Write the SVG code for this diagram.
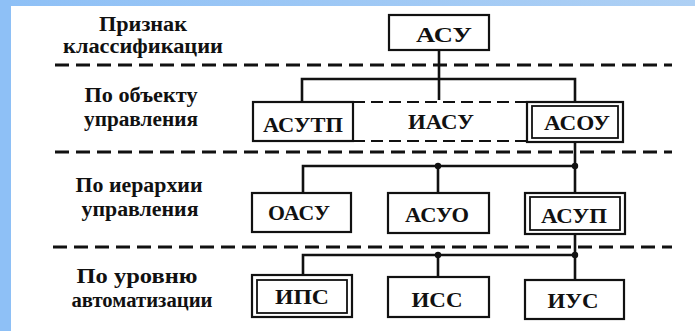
<svg xmlns="http://www.w3.org/2000/svg" width="695" height="331" viewBox="0 0 695 331">
<defs>
<linearGradient id="bg" x1="0" y1="0" x2="1" y2="0">
<stop offset="0" stop-color="#8ec0f6"/>
<stop offset="1" stop-color="#aed0f4"/>
</linearGradient>
</defs>
<style>
.lbl{font-family:"Liberation Serif","Times New Roman",serif;font-size:20px;font-weight:bold;fill:#111;text-anchor:middle}
.bt{font-family:"Liberation Serif","Times New Roman",serif;font-size:21px;font-weight:bold;fill:#111;text-anchor:middle}
.box{fill:#fff;stroke:#111;stroke-width:2.2}
.in{fill:none;stroke:#111;stroke-width:1.8}
.sep{stroke:#111;stroke-width:3;stroke-dasharray:14 7;fill:none}
.dsh{stroke:#111;stroke-width:2.2;stroke-dasharray:12 6;fill:none}
.ln{stroke:#111;stroke-width:2.6;fill:none}
.dot{fill:#111}
</style>
<rect x="0" y="0" width="695" height="331" fill="#fff"/>
<rect x="0" y="0" width="695" height="6" fill="url(#bg)"/>
<rect x="0" y="0" width="11" height="331" fill="#8ec0f6"/>

<g id="labels">
<text class="lbl" x="143" y="31" textLength="88" lengthAdjust="spacingAndGlyphs">Признак</text>
<text class="lbl" x="143" y="53" textLength="160" lengthAdjust="spacingAndGlyphs">классификации</text>
<text class="lbl" x="141" y="102" textLength="113" lengthAdjust="spacingAndGlyphs">По объекту</text>
<text class="lbl" x="141" y="126" textLength="114" lengthAdjust="spacingAndGlyphs">управления</text>
<text class="lbl" x="139" y="192" textLength="127" lengthAdjust="spacingAndGlyphs">По иерархии</text>
<text class="lbl" x="140" y="216" textLength="117" lengthAdjust="spacingAndGlyphs">управления</text>
<text class="lbl" x="137" y="283" textLength="121" lengthAdjust="spacingAndGlyphs">По уровню</text>
<text class="lbl" x="142" y="307" textLength="141" lengthAdjust="spacingAndGlyphs">автоматизации</text>
</g>

<g id="separators">
<line class="sep" x1="55" y1="65" x2="672" y2="65"/>
<line class="sep" x1="55" y1="152" x2="672" y2="152"/>
<line class="sep" x1="53" y1="247" x2="672" y2="247"/>
</g>

<g id="connectors">
<polyline class="ln" points="439,50 439,100"/>
<polyline class="ln" points="302,102 302,79 575,79 575,102"/>
<polyline class="ln" points="575,142 575,193"/>
<polyline class="ln" points="303,193 303,166 575,166"/>
<line class="ln" x1="438" y1="166" x2="438" y2="193"/>
<circle class="dot" cx="438" cy="166" r="3.2"/>
<circle class="dot" cx="575" cy="166" r="3.2"/>
<polyline class="ln" points="575,234 575,280"/>
<polyline class="ln" points="303,275 303,255 575,255"/>
<line class="ln" x1="438" y1="255" x2="438" y2="277"/>
<circle class="dot" cx="438" cy="255" r="3.2"/>
<circle class="dot" cx="575" cy="255" r="3.2"/>
</g>

<g id="n-asu">
<rect class="box" x="389" y="15" width="100" height="35"/>
<text class="bt" x="444" y="42" textLength="56" lengthAdjust="spacingAndGlyphs">АСУ</text>
</g>
<g id="n-asutp">
<rect class="box" x="253" y="102" width="100" height="39"/>
<text class="bt" x="303" y="132" textLength="80" lengthAdjust="spacingAndGlyphs">АСУТП</text>
</g>
<g id="n-iasu">
<line class="dsh" x1="353" y1="102" x2="527" y2="102"/>
<line class="dsh" x1="353" y1="141" x2="527" y2="141"/>
<text class="bt" x="441" y="129" textLength="66" lengthAdjust="spacingAndGlyphs">ИАСУ</text>
</g>
<g id="n-asou">
<rect class="box" x="527" y="102" width="96" height="40"/>
<rect class="in" x="532" y="106" width="86" height="32"/>
<text class="bt" x="577" y="130" textLength="66" lengthAdjust="spacingAndGlyphs">АСОУ</text>
</g>
<g id="n-oasu">
<rect class="box" x="252" y="193" width="99" height="39"/>
<text class="bt" x="299" y="220" textLength="62" lengthAdjust="spacingAndGlyphs">ОАСУ</text>
</g>
<g id="n-asuo">
<rect class="box" x="388" y="193" width="101" height="40"/>
<text class="bt" x="437" y="222" textLength="64" lengthAdjust="spacingAndGlyphs">АСУО</text>
</g>
<g id="n-asup">
<rect class="box" x="525" y="193" width="100" height="41"/>
<rect class="in" x="530" y="197" width="90" height="33"/>
<text class="bt" x="574" y="223" textLength="66" lengthAdjust="spacingAndGlyphs">АСУП</text>
</g>
<g id="n-ips">
<rect class="box" x="252" y="275" width="100" height="42"/>
<rect class="in" x="257" y="280" width="90" height="33"/>
<text class="bt" x="302" y="304" textLength="54" lengthAdjust="spacingAndGlyphs">ИПС</text>
</g>
<g id="n-iss">
<rect class="box" x="388" y="277" width="101" height="40"/>
<text class="bt" x="437" y="307" textLength="51" lengthAdjust="spacingAndGlyphs">ИСС</text>
</g>
<g id="n-ius">
<rect class="box" x="525" y="280" width="99" height="39"/>
<text class="bt" x="573" y="308" textLength="51" lengthAdjust="spacingAndGlyphs">ИУС</text>
</g>
</svg>
